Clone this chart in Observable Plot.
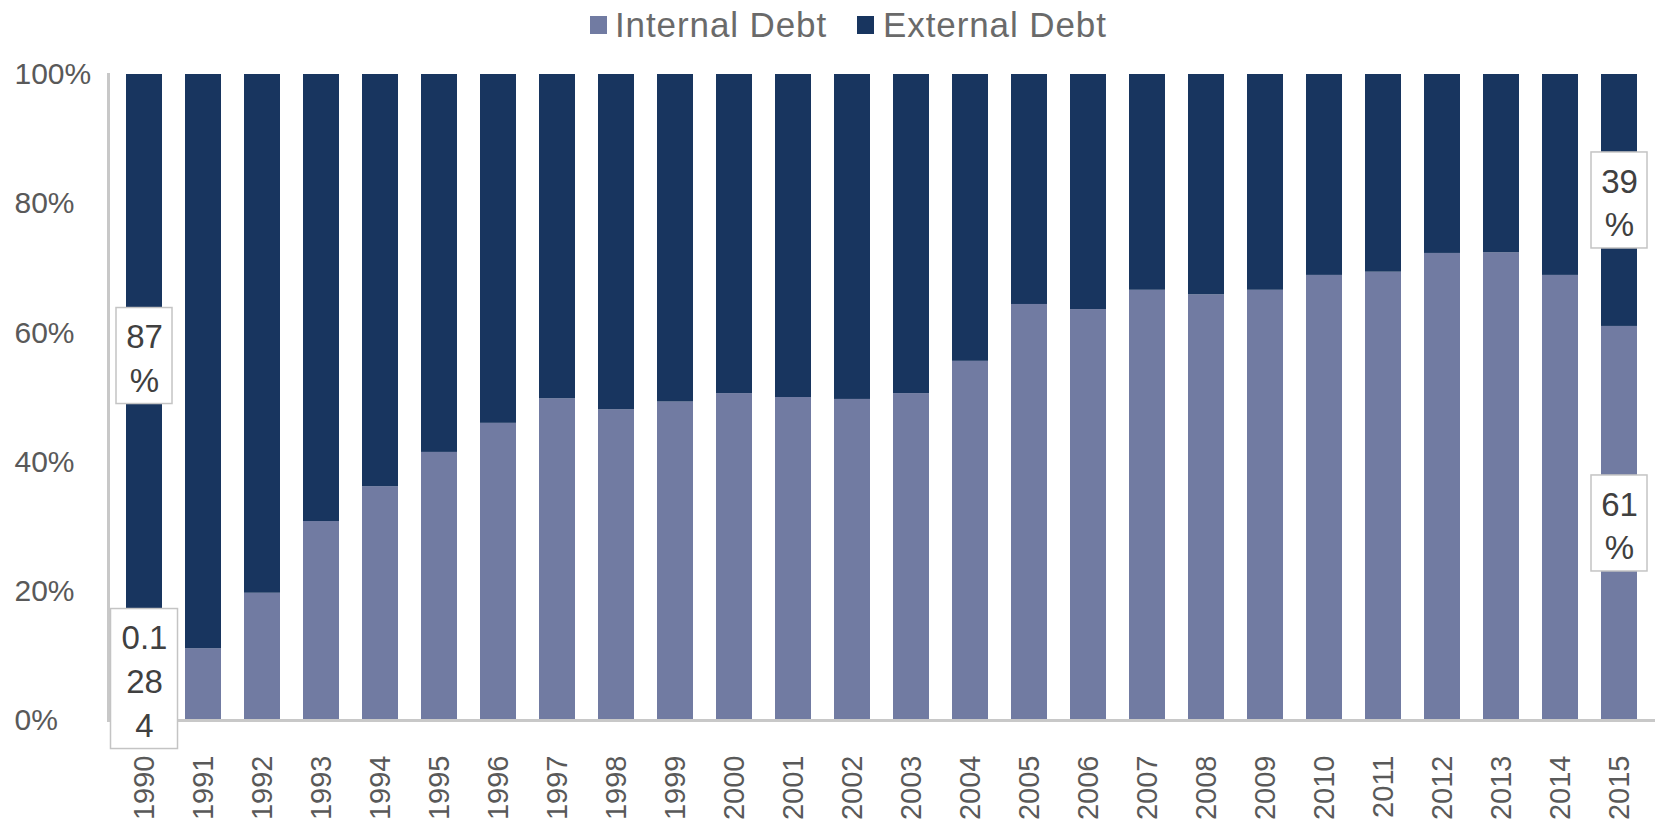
<!DOCTYPE html>
<html><head><meta charset="utf-8">
<script src="https://cdn.jsdelivr.net/npm/d3@7"></script>
<script src="https://cdn.jsdelivr.net/npm/@observablehq/plot@0.6"></script>
<style>
body{margin:0;background:#fff;font-family:"Liberation Sans",Arial,sans-serif;}
#legend{position:relative;height:50px;width:1657px;}
.sw{position:absolute;top:16px;width:17px;height:18px;}
.lt{position:absolute;top:5px;font-size:35px;letter-spacing:0.9px;line-height:40px;color:#6a6a6a;white-space:nowrap;}
#chart{width:1657px;}
</style>
</head><body>
<div id="legend"></div>
<div id="chart"></div>
<script>
const years = ["1990","1991","1992","1993","1994","1995","1996","1997","1998","1999","2000","2001","2002","2003","2004","2005","2006","2007","2008","2009","2010","2011","2012","2013","2014","2015"];
const internalDebt = [0.1284,0.111,0.197,0.308,0.362,0.415,0.460,0.498,0.481,0.493,0.506,0.500,0.497,0.506,0.556,0.644,0.636,0.666,0.659,0.666,0.689,0.694,0.723,0.724,0.689,0.61];
const externalDebt = [0.8716,0.889,0.803,0.692,0.638,0.585,0.540,0.502,0.519,0.507,0.494,0.500,0.503,0.494,0.444,0.356,0.364,0.334,0.341,0.334,0.311,0.306,0.277,0.276,0.311,0.39];
const seriesNames = ["Internal Debt","External Debt"];
const seriesColors = ["#717ba2","#18355f"];
const yTicks = [0,0.2,0.4,0.6,0.8,1];
const labelYears = ["1990","1990","2015","2015"];
const labelSeries = ["External Debt","Internal Debt","External Debt","Internal Debt"];
const labelTexts = ["87\n%","0.1\n28\n4","39\n%","61\n%"];

// legend
const legend = document.getElementById("legend");
const legendPos = [[590,615],[857,883]];
seriesNames.forEach((s,i)=>{
  const sw=document.createElement("div");sw.className="sw";sw.style.left=legendPos[i][0]+"px";sw.style.background=seriesColors[i];legend.appendChild(sw);
  const t=document.createElement("div");t.className="lt";t.style.left=legendPos[i][1]+"px";t.textContent=s;legend.appendChild(t);
});

const table = [];
years.forEach((y,i)=>{
  table.push({year:y, series:"Internal Debt", value:internalDebt[i]});
  table.push({year:y, series:"External Debt", value:externalDebt[i]});
});

const labels = labelYears.map((y,i)=>{
  const k = years.indexOf(y);
  const center = labelSeries[i]==="Internal Debt" ? internalDebt[k]/2 : internalDebt[k] + externalDebt[k]/2;
  const lines = labelTexts[i].split("\n");
  const maxLen = d3.max(lines, l=>l.length);
  return {year:y, center, text:labelTexts[i], n:lines.length, m:maxLen};
});

const boxMarks = labels.map(l=>{
  const halfW = l.m>=3 ? 33.5 : 28;
  const halfH = (l.n*44+8)/2;
  return Plot.barY([l], {x:"year", y1:"center", y2:"center", fill:"white", stroke:"#c4c4c4", strokeWidth:1.5,
    insetLeft:-(halfW-18), insetRight:-(halfW-18), insetTop:-halfH, insetBottom:-halfH});
});

const chart = Plot.plot({
  width:1657, height:774,
  marginTop:24, marginBottom:104, marginLeft:108, marginRight:2,
  style:{fontFamily:"Liberation Sans, Arial, sans-serif", fontSize:"29px", color:"#595959", background:"white"},
  x:{domain:years, paddingInner:0.395, paddingOuter:0.1975, label:null},
  y:{domain:[0,1], label:null},
  color:{domain:seriesNames, range:seriesColors},
  marks:[
    Plot.barY(table, {x:"year", y:"value", fill:"series", order:seriesNames}),
    Plot.ruleY([0], {stroke:"#c8c8c8", strokeWidth:3}),
    Plot.frame({anchor:"left", stroke:"#c8c8c8", strokeWidth:3}),
    Plot.axisX({tickSize:0, tickPadding:35, tickRotate:-90, fill:"#595959", label:null}),
    Plot.axisY({ticks:yTicks, tickFormat:d3.format(".0%"), tickSize:0, tickPadding:0, textAnchor:"start", dx:-94, fill:"#595959", fontSize:30, label:null}),
    ...boxMarks,
    Plot.text(labels, {x:"year", y:"center", text:"text", fontSize:33, lineHeight:1.33, fill:"#404040"})
  ]
});
document.getElementById("chart").appendChild(chart);
</script>
</body></html>
